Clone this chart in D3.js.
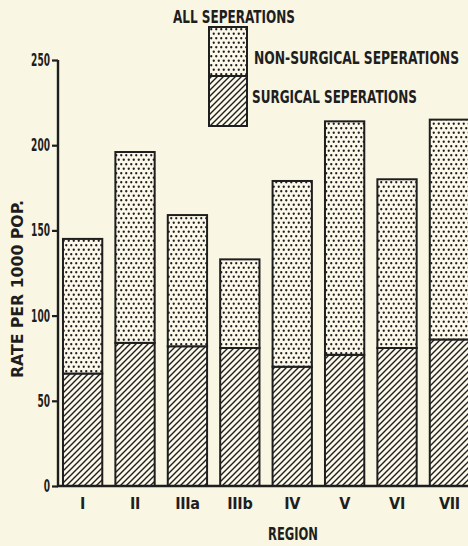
<!DOCTYPE html>
<html><head><meta charset="utf-8">
<script src="https://cdn.jsdelivr.net/npm/d3@7"></script>
<style>
html,body{margin:0;padding:0;background:#f9f6e4;}
svg{display:block;}
text{font-family:"DejaVu Sans Condensed","DejaVu Sans",sans-serif;font-stretch:condensed;fill:#1e1e1e;}
</style></head>
<body><svg id="c" width="468" height="546"></svg>
<script>
const regions = ["I","II","IIIa","IIIb","IV","V","VI","VII"];
const surgical = [66, 84, 82, 81, 70, 77, 81, 86];
const nonSurgical = [79, 112, 77, 52, 109, 137, 99, 129];
const yTicks = [0, 50, 100, 150, 200, 250];
const legendTitle = "ALL SEPERATIONS";
const legendLabels = ["NON-SURGICAL SEPERATIONS", "SURGICAL SEPERATIONS"];
const yTitle = "RATE PER 1000 POP.";
const xTitle = "REGION";

const svg = d3.select("#c");
const ink = "#1e1e1e";
const W = 468, H = 546;
const x0 = 58, yBase = 486, yTop = 60;

const defs = svg.append("defs");
const hp = defs.append("pattern").attr("id","hatch").attr("patternUnits","userSpaceOnUse")
  .attr("width",6).attr("height",6);
hp.append("rect").attr("width",6).attr("height",6).attr("fill","#fbf8ea");
hp.append("path").attr("d","M-1,7 L7,-1 M-4,4 L4,-4 M2,10 L10,2")
  .attr("stroke",ink).attr("stroke-width",1.4);
const dp = defs.append("pattern").attr("id","dots").attr("patternUnits","userSpaceOnUse")
  .attr("width",5).attr("height",9);
dp.append("rect").attr("width",5).attr("height",9).attr("fill","#fbf8ea");
dp.append("circle").attr("cx",1.25).attr("cy",2.25).attr("r",1.15).attr("fill",ink);
dp.append("circle").attr("cx",3.75).attr("cy",6.75).attr("r",1.15).attr("fill",ink);

const data = regions.map((r,i)=>({region:r, surgical:surgical[i], nonSurgical:nonSurgical[i]}));
const stack = d3.stack().keys(["surgical","nonSurgical"])(data);

const step = 52.4, pi = 0.25, po = 0.095;
const x = d3.scaleBand().domain(regions)
  .range([x0, x0 + step*(regions.length - pi + 2*po)]).paddingInner(pi).paddingOuter(po);
const y = d3.scaleLinear().domain([0,250]).range([yBase, yTop]);

const fills = {surgical:"url(#hatch)", nonSurgical:"url(#dots)"};
stack.forEach(s=>{
  svg.append("g").selectAll("rect").data(s).join("rect")
    .attr("x", d=>x(d.data.region))
    .attr("width", x.bandwidth())
    .attr("y", d=>y(d[1]))
    .attr("height", d=>y(d[0])-y(d[1]))
    .attr("fill", fills[s.key])
    .attr("stroke", ink).attr("stroke-width", 2);
});

// y axis
const ya = svg.append("g").attr("transform",`translate(${x0},0)`)
  .call(d3.axisLeft(y).tickValues(yTicks).tickSize(6).tickPadding(2).tickFormat(d3.format("d")));
ya.select(".domain").attr("stroke",ink).attr("stroke-width",2.4).attr("d",`M0,${yTop}V${yBase}`);
ya.selectAll(".tick line").attr("stroke",ink).attr("stroke-width",2.2);
ya.selectAll(".tick text").attr("font-size",17).attr("font-weight","bold").style("fill",ink)
  .attr("font-family",'"DejaVu Sans Condensed",sans-serif')
  .attr("textLength", d=>String(d).length*6.3).attr("lengthAdjust","spacingAndGlyphs");

// x axis
const xa = svg.append("g").attr("transform",`translate(0,${yBase})`)
  .call(d3.axisBottom(x).tickSize(0).tickPadding(12));
xa.select(".domain").attr("stroke",ink).attr("stroke-width",2.4).attr("d",`M${x0-1},0H${W}`);
xa.selectAll(".tick text").attr("font-size",16).attr("font-weight","bold").style("fill",ink)
  .attr("font-family",'"DejaVu Sans Condensed",sans-serif').attr("letter-spacing","-0.3");

// titles
svg.append("text").attr("x",293).attr("y",540).attr("text-anchor","middle")
  .attr("font-size",17).attr("font-weight","bold")
  .attr("textLength",50).attr("lengthAdjust","spacingAndGlyphs").text(xTitle);
svg.append("text").attr("transform","translate(23,289) rotate(-90)").attr("text-anchor","middle")
  .attr("font-size",16).attr("font-weight","bold")
  .attr("textLength",178).attr("lengthAdjust","spacingAndGlyphs").text(yTitle);

// legend
svg.append("text").attr("x",234).attr("y",23).attr("text-anchor","middle")
  .attr("font-size",17).attr("font-weight","bold")
  .attr("textLength",122).attr("lengthAdjust","spacingAndGlyphs").text(legendTitle);
const lx = 209, lw = 38, ly0 = 27, lmid = 76, ly1 = 126;
svg.append("rect").attr("x",lx).attr("y",ly0).attr("width",lw).attr("height",lmid-ly0)
  .attr("fill","url(#dots)").attr("stroke",ink).attr("stroke-width",2);
svg.append("rect").attr("x",lx).attr("y",lmid).attr("width",lw).attr("height",ly1-lmid)
  .attr("fill","url(#hatch)").attr("stroke",ink).attr("stroke-width",2);
svg.append("text").attr("transform","translate(254,64) scale(1,1.2)").attr("font-size",14).attr("font-weight","bold")
  .attr("textLength",205).attr("lengthAdjust","spacingAndGlyphs").text(legendLabels[0]);
svg.append("text").attr("x",252).attr("y",103).attr("font-size",17).attr("font-weight","bold")
  .attr("textLength",165).attr("lengthAdjust","spacingAndGlyphs").text(legendLabels[1]);
</script></body></html>
